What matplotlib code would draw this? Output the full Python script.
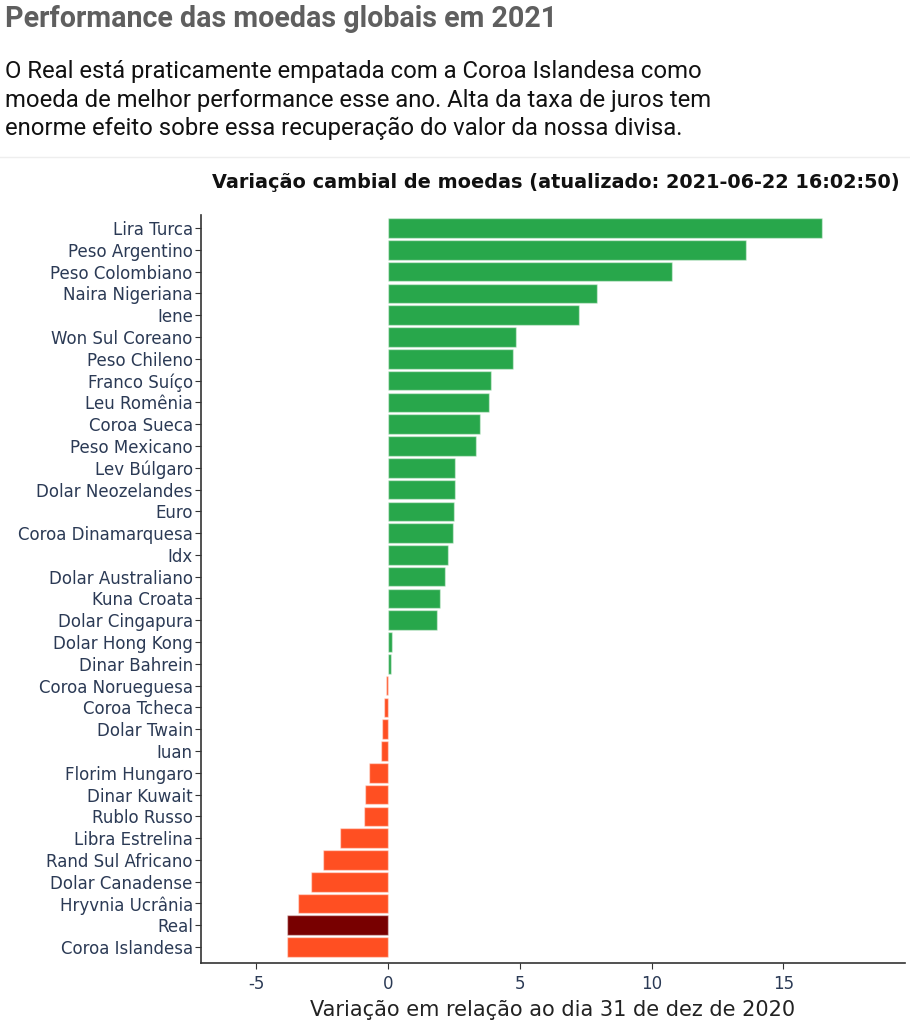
import numpy as np
import matplotlib
matplotlib.use('Agg')
import matplotlib.pyplot as plt
import matplotlib.ticker as ticker

# moedas, de cima para baixo
moedas = ['Lira Turca', 'Peso Argentino', 'Peso Colombiano', 'Naira Nigeriana', 'Iene',
          'Won Sul Coreano', 'Peso Chileno', 'Franco Suíço', 'Leu Romênia', 'Coroa Sueca',
          'Peso Mexicano', 'Lev Búlgaro', 'Dolar Neozelandes', 'Euro', 'Coroa Dinamarquesa',
          'Idx', 'Dolar Australiano', 'Kuna Croata', 'Dolar Cingapura', 'Dolar Hong Kong',
          'Dinar Bahrein', 'Coroa Norueguesa', 'Coroa Tcheca', 'Dolar Twain', 'Iuan',
          'Florim Hungaro', 'Dinar Kuwait', 'Rublo Russo', 'Libra Estrelina', 'Rand Sul Africano',
          'Dolar Canadense', 'Hryvnia Ucrânia', 'Real', 'Coroa Islandesa']

variacao = [16.46, 13.59, 10.77, 7.93, 7.25,
            4.85, 4.73, 3.91, 3.83, 3.50,
            3.35, 2.54, 2.52, 2.50, 2.48,
            2.29, 2.16, 1.95, 1.87, 0.16,
            0.11, -0.10, -0.15, -0.23, -0.28,
            -0.72, -0.89, -0.90, -1.81, -2.48,
            -2.93, -3.42, -3.83, -3.84]

xticks = [-5, 0, 5, 10, 15]

titulo = 'Performance das moedas globais em 2021'
texto = ('O Real está praticamente empatada com a Coroa Islandesa como\n'
         'moeda de melhor performance esse ano. Alta da taxa de juros tem\n'
         'enorme efeito sobre essa recuperação do valor da nossa divisa.')
titulo_grafico = 'Variação cambial de moedas (atualizado: 2021-06-22 16:02:50)'
xlabel = 'Variação em relação ao dia 31 de dez de 2020'

verde = '#28a74b'
laranja = '#ff4f22'
destaque = '#780000'

fig = plt.figure(figsize=(9.1, 10.24), dpi=100)

fig.text(0.006, 0.995, titulo, fontsize=20.6, fontweight='bold', color='#5f5f5f',
         family='Roboto', va='top')
fig.text(0.006, 0.941, texto, fontsize=17.2, color='#111111', family='Roboto',
         va='top', linespacing=1.3)
fig.add_artist(plt.Line2D([0, 1], [0.847, 0.847], color='#eeeeee', lw=1))
fig.text(900 / 910, 1 - 182 / 1024, titulo_grafico, fontsize=13.9, fontweight='bold',
         color='#111111', ha='right', va='center')

ax = fig.add_axes([0.221, 0.0596, 0.7735, 0.7304])

n = len(moedas)
pos = np.arange(n)[::-1]
cores = []
for m, v in zip(moedas, variacao):
    if m == 'Real':
        cores.append(destaque)
    elif v >= 0:
        cores.append(verde)
    else:
        cores.append(laranja)

ax.barh(pos, variacao, height=0.9, color=cores, edgecolor=(1, 1, 1, 0.45), linewidth=1.0)

ax.set_ylim(-0.73, n - 1 + 0.6)
ax.set_xlim(-7.1, 19.62)
ax.set_yticks(pos)
ax.set_yticklabels(moedas)
ax.set_xticks(xticks)
ax.xaxis.set_major_formatter(ticker.FuncFormatter(lambda x, p: f'{x:g}'))

for s in ['top', 'right']:
    ax.spines[s].set_visible(False)
for s in ['left', 'bottom']:
    ax.spines[s].set_color('#333333')
    ax.spines[s].set_linewidth(1.2)

ax.tick_params(axis='y', labelsize=12, labelcolor='#2b3a55', color='#333333', length=4, pad=2)
ax.tick_params(axis='x', labelsize=12, labelcolor='#2b3a55', color='#333333', length=4, pad=5)

ax.set_xlabel(xlabel, fontsize=15, color='#222222', labelpad=5)

fig.savefig('out.png', dpi=100)
